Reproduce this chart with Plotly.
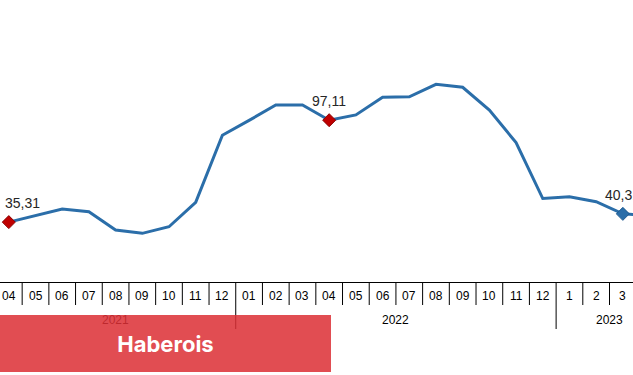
import plotly.graph_objects as go

months = ["04", "05", "06", "07", "08", "09", "10", "11", "12",
          "01", "02", "03", "04", "05", "06", "07", "08", "09", "10", "11", "12",
          "1", "2", "3", "4"]
years = ["2021"] * 9 + ["2022"] * 12 + ["2023"] * 4
values = [35.31, 39.3, 43.3, 41.6, 30.5, 28.5, 32.5, 47.3, 88.0,
          97.0, 106.3, 106.3, 97.11, 100.3, 111.0, 111.3, 118.9, 117.1, 103.3, 83.5, 49.6,
          50.7, 47.7, 40.31, 39.5]
labeled_idx = [0, 12, 23]
labeled_colors = ["#c00000", "#c00000", "#2b6ea9"]

x = list(range(len(values)))
LINE = "#2b6ea9"
FONT = "Liberation Sans, Arial, sans-serif"

fig = go.Figure()
fig.add_trace(go.Scatter(x=x, y=values, mode="lines",
                         line=dict(color=LINE, width=3), hoverinfo="skip"))
fig.add_trace(go.Scatter(
    x=[x[i] for i in labeled_idx], y=[values[i] for i in labeled_idx], mode="markers",
    marker=dict(symbol="diamond", size=10, color=labeled_colors,
                line=dict(color=["#8b0000", "#8b0000", "#1f5a8f"], width=1)),
    hoverinfo="skip"))

annotations = []
shapes = []

# data labels
for k, i in enumerate(labeled_idx):
    txt = f"{values[i]:.2f}".replace(".", ",")
    a = dict(x=x[i], y=values[i], xref="x", yref="y", text=txt, showarrow=False,
             font=dict(family=FONT, size=14, color="#262626"),
             yanchor="middle", yshift=19)
    if i == 0:
        a.update(xanchor="left", xshift=-6)
    annotations.append(a)

# month labels and separators
for i, m in enumerate(months):
    annotations.append(dict(x=i, y=0, xref="x", yref="paper", text=m, showarrow=False,
                            font=dict(family=FONT, size=12, color="#000000"),
                            yanchor="middle", yshift=-14))
    new_year = i > 0 and years[i] != years[i - 1]
    shapes.append(dict(type="line", xref="x", yref="paper", ysizemode="pixel", yanchor=0,
                       x0=i - 0.5, x1=i - 0.5, y0=0, y1=-47 if new_year else -23,
                       line=dict(color="#000000", width=1)))

# year group labels
seen = []
for y in years:
    if y not in seen:
        seen.append(y)
for y in seen:
    idx = [i for i, v in enumerate(years) if v == y]
    c = (idx[0] + idx[-1]) / 2
    annotations.append(dict(x=c, y=0, xref="x", yref="paper", text=y, showarrow=False,
                            font=dict(family=FONT, size=12, color="#000000"),
                            yanchor="middle", yshift=-38))

# watermark banner (drawn last so it covers the year label)
annotations.append(dict(x=0, y=0, xref="paper", yref="paper", xanchor="left", yanchor="top",
                        yshift=-33, width=331, height=57, borderpad=0, borderwidth=0,
                        bgcolor="rgba(220,48,54,0.86)", showarrow=False,
                        text="<b>Haberois</b>", align="center", valign="middle",
                        font=dict(family="Inter, Liberation Sans, sans-serif", size=22,
                                  color="#ffffff")))

fig.update_layout(
    width=633, height=375,
    margin=dict(l=0, r=0, t=0, b=93),
    paper_bgcolor="white", plot_bgcolor="white",
    showlegend=False,
    xaxis=dict(range=[-0.33, 23.38], showgrid=False, zeroline=False, showticklabels=False,
               ticks="", showline=True, linecolor="#000000", linewidth=1, fixedrange=True),
    yaxis=dict(range=[-1.0, 170.0], showgrid=False, zeroline=False, showticklabels=False,
               ticks="", showline=False, fixedrange=True),
    annotations=annotations,
    shapes=shapes,
)

fig.write_html("out.html")
